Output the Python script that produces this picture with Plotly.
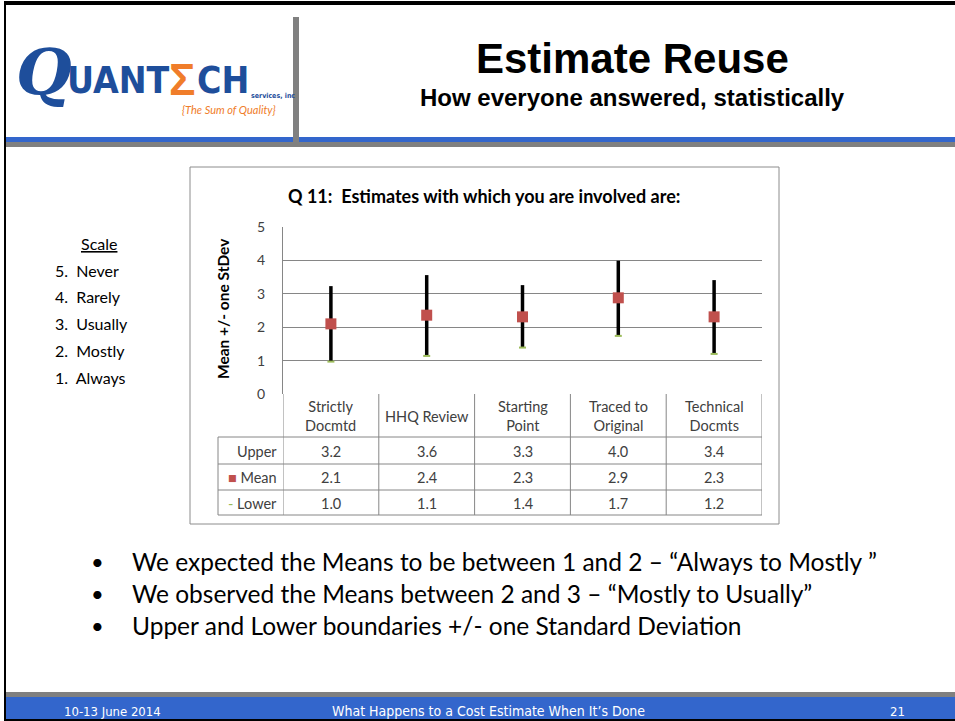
import plotly.graph_objects as go

W, H = 955, 721

# ---------------- data ----------------
categories = ["Strictly Docmtd", "HHQ Review", "Starting Point", "Traced to Original", "Technical Docmts"]
category_labels = ["Strictly<br>Docmtd", "HHQ Review", "Starting<br>Point", "Traced to<br>Original", "Technical<br>Docmts"]
upper = [3.23, 3.56, 3.26, 3.99, 3.41]
mean = [2.10, 2.36, 2.31, 2.88, 2.31]
lower = [0.97, 1.14, 1.39, 1.74, 1.20]
y_ticks = [0, 1, 2, 3, 4, 5]
scale_title = "Scale"
scale_items = ["5.  Never", "4.  Rarely", "3.  Usually", "2.  Mostly", "1.  Always"]
bullets = [
    "We expected the Means to be between 1 and 2 \u2013 \u201cAlways to Mostly \u201d",
    "We observed the Means between 2 and 3 \u2013 \u201cMostly to Usually\u201d",
    "Upper and Lower boundaries +/- one Standard Deviation",
]
footer_left = "10-13 June 2014"
footer_mid = "What Happens to a Cost Estimate When It\u2019s Done"
footer_right = "21"

CAL = "Lato, Carlito, Calibri, 'Open Sans', sans-serif"
NARROW = "'Liberation Sans Narrow', 'DejaVu Sans Condensed', Lato, sans-serif"
ARIAL = "'Liberation Sans', Arial, sans-serif"
TXT = "#404040"
GRID = "#868686"
BLUE = "#3366CC"
GRAY = "#808080"


def X(px):
    return px / W


def Y(py):
    return 1 - py / H


fig = go.Figure()

# error bars (lower .. upper)
fig.add_trace(go.Scatter(
    x=categories, y=mean, mode="markers",
    marker=dict(size=1, opacity=0),
    error_y=dict(type="data", symmetric=False,
                 array=[u - m for u, m in zip(upper, mean)],
                 arrayminus=[m - l for m, l in zip(mean, lower)],
                 color="black", thickness=3.5, width=0),
    showlegend=False, hoverinfo="skip"))
# lower markers
fig.add_trace(go.Scatter(
    x=categories, y=lower, mode="markers", name="Lower",
    marker=dict(symbol="line-ew", size=5, line=dict(color="#9BBB59", width=2)),
    showlegend=False))
# mean markers
fig.add_trace(go.Scatter(
    x=categories, y=mean, mode="markers", name="Mean",
    marker=dict(symbol="square", size=11, color="#C0504D"),
    showlegend=False))

shapes = []
ann = []


def rect(x0, y0, x1, y1, color):
    shapes.append(dict(type="rect", xref="paper", yref="paper",
                       x0=X(x0), x1=X(x1), y0=Y(y0), y1=Y(y1),
                       fillcolor=color, line=dict(width=0), layer="below"))


def hline(x0, x1, py, color, w=1):
    shapes.append(dict(type="line", xref="paper", yref="paper",
                       x0=X(x0), x1=X(x1), y0=Y(py), y1=Y(py), line=dict(color=color, width=w)))


def vline(px, y0, y1, color, w=1, xref="paper"):
    xv = px if xref != "paper" else X(px)
    shapes.append(dict(type="line", xref=xref, yref="paper",
                       x0=xv, x1=xv, y0=Y(y0), y1=Y(y1), line=dict(color=color, width=w)))


def text(px, py, s, size, color="black", family=CAL, xanchor="center", yanchor="middle",
         xref="paper", **kw):
    ann.append(dict(x=px if xref != "paper" else X(px), y=Y(py), xref=xref, yref="paper",
                    text=s, showarrow=False, xanchor=xanchor, yanchor=yanchor,
                    font=dict(size=size, color=color, family=family), **kw))


# ---------- slide frame ----------
rect(4, 1, 955, 5, "black")
rect(4, 1, 6, 721, "black")
rect(4, 719, 955, 721, "black")
# header bars
rect(6, 137, 955, 142, BLUE)
rect(6, 142, 955, 147, GRAY)
rect(293, 17, 299, 147, GRAY)
# footer bars
rect(6, 692, 955, 697, GRAY)
rect(6, 697, 955, 719, BLUE)

# ---------- logo ----------
text(44, 72, "<b><i>Q</i></b>", 64, "#1E4E9B", "'DejaVu Serif', serif")
text(65, 81, "<b>UANT</b>", 37, "#1E4E9B", NARROW, xanchor="left")
text(182, 80, "<b>\u03a3</b>", 44, "#F07D2A", ARIAL, xanchor="center")
text(195, 81, "<b>CH</b>", 37, "#1E4E9B", NARROW, xanchor="left")
text(249, 96, "<b>services, inc</b>", 7, "#1E4E9B", NARROW, xanchor="left")
text(229, 110, "<i>{The Sum of Quality}</i>", 11, "#F07D2A", CAL)

# ---------- titles ----------
text(632, 59, "<b>Estimate Reuse</b>", 42, "black", ARIAL)
text(632, 98, "<b>How everyone answered, statistically</b>", 24, "black", ARIAL)

# ---------- scale list ----------
text(99, 243, "<u>" + scale_title + "</u>", 16, "black")
for i, s in enumerate(scale_items):
    text(53, 270 + i * 26.8, s, 16, "black", xanchor="left")

# ---------- chart box ----------
shapes.append(dict(type="rect", xref="paper", yref="paper", x0=X(190), x1=X(779), y0=Y(167), y1=Y(524),
                   line=dict(color="#8C8C8C", width=1), fillcolor="rgba(0,0,0,0)", layer="below"))
text(484, 196, "<b>Q 11:  Estimates with which you are involved are:</b>", 18, "black")
text(223, 309, "<b>Mean +/- one StDev</b>", 15.5, "black", textangle=-90)

# ---------- data table ----------
for py in [437, 464, 490, 515]:
    hline(218, 762, py, GRID)
vline(218, 437, 515, GRID)
n = len(categories)
for i in range(n + 1):
    vline(i - 0.5, 394, 515, GRID, xref="x")
for i, lab in enumerate(category_labels):
    text(categories[i], 416, lab, 14.5, TXT, xref="x")
    text(categories[i], 451, f"{upper[i]:.1f}", 14.5, TXT, xref="x")
    text(categories[i], 477, f"{mean[i]:.1f}", 14.5, TXT, xref="x")
    text(categories[i], 503, f"{lower[i]:.1f}", 14.5, TXT, xref="x")
text(279, 451, "Upper", 14.5, TXT, xanchor="right")
text(279, 477, "<span style='color:#C0504D'>\u25a0</span> Mean", 14.5, TXT, xanchor="right")
text(279, 503, "<span style='color:#9BBB59'>-</span> Lower", 14.5, TXT, xanchor="right")

# ---------- bullets ----------
for i, b in enumerate(bullets):
    py = 561 + i * 32
    text(97, py, "\u2022", 22, "black", xanchor="center")
    text(130, py, b, 24.5, "black", xanchor="left")

# ---------- footer ----------
text(62, 711, footer_left, 13, "white", NARROW, xanchor="left")
text(488, 711, footer_mid, 14, "white", NARROW)
text(897, 711, footer_right, 13, "white", NARROW)

fig.update_layout(
    width=W, height=H,
    margin=dict(l=0, r=0, t=0, b=0, pad=0),
    paper_bgcolor="white", plot_bgcolor="white",
    showlegend=False,
    shapes=shapes, annotations=ann,
    xaxis=dict(domain=[X(283), X(762)], type="category", categoryarray=categories,
               range=[-0.5, n - 0.5], showticklabels=False, showgrid=False, zeroline=False,
               showline=False, fixedrange=True, automargin=False),
    yaxis=dict(domain=[Y(394), Y(227)], range=[0, 5], tickvals=y_ticks,
               showgrid=True, gridcolor=GRID, gridwidth=1, zeroline=False,
               showline=True, linecolor=GRID, linewidth=1,
               tickfont=dict(size=14, color=TXT, family=CAL), ticks="", ticklabelstandoff=14,
               fixedrange=True, automargin=False),
)

fig.write_html(
    "out.html",
    config={"displayModeBar": False},
    post_script="document.body.style.margin='0px';document.body.style.overflow='hidden';",
)
